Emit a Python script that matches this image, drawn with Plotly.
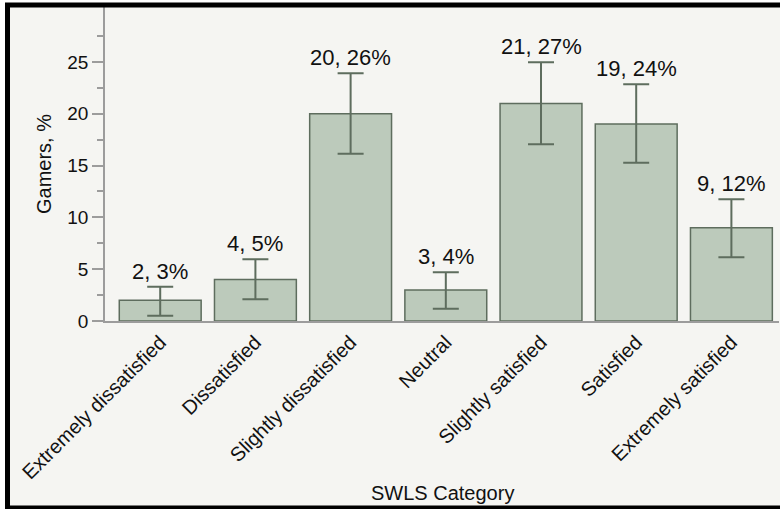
import plotly.graph_objects as go

# SWLS categories, gamer counts / shares, and 95% CI bounds (in %)
categories = ["Extremely dissatisfied", "Dissatisfied", "Slightly dissatisfied",
              "Neutral", "Slightly satisfied", "Satisfied", "Extremely satisfied"]
counts = [2, 4, 20, 3, 21, 19, 9]
shares = [3, 5, 26, 4, 27, 24, 12]
ci_low = [0.51, 2.1, 16.15, 1.19, 17.06, 15.28, 6.15]
ci_high = [3.31, 5.96, 23.9, 4.7, 24.97, 22.85, 11.75]

err_plus = [h - v for h, v in zip(ci_high, counts)]
err_minus = [v - l for v, l in zip(counts, ci_low)]

W, H = 780, 509
ML, MR, MT, MB = 105, 1, 7, 188
PW, PH = W - ML - MR, H - MT - MB

def px_x(p):
    return (p - ML) / PW

def px_y(p):
    return (H - MB - p) / PH

FONT = "Liberation Sans, Arial, sans-serif"
BAR_FILL = "#bccabb"
BAR_LINE = "#5e6d5e"
AXIS = "#9c9c9c"
TEXT = "#111111"

fig = go.Figure()
fig.add_trace(go.Bar(
    x=categories, y=counts,
    marker=dict(color=BAR_FILL, line=dict(color=BAR_LINE, width=1.5)),
    error_y=dict(type="data", symmetric=False, array=err_plus, arrayminus=err_minus,
                 color=BAR_LINE, thickness=2, width=13),
    width=0.86,
    showlegend=False,
    hoverinfo="skip",
))

for c, n, s, hi in zip(categories, counts, shares, ci_high):
    fig.add_annotation(x=c, y=hi, text=f"{n}, {s}%", showarrow=False,
                       yanchor="bottom", yshift=1,
                       font=dict(family=FONT, size=22, color=TEXT))

# x-axis title, placed at a fixed spot below the slanted category labels
fig.add_annotation(xref="paper", yref="paper", x=0.5, y=px_y(493),
                   text="SWLS Category", showarrow=False,
                   xanchor="center", yanchor="middle",
                   font=dict(family=FONT, size=20, color=TEXT))

# page background inside the frame, and the black frame itself
fig.add_shape(type="rect", xref="paper", yref="paper", layer="below",
              x0=px_x(7), x1=px_x(800), y0=px_y(508), y1=px_y(5),
              fillcolor="#f5f5f2", line=dict(width=0))
fig.add_shape(type="rect", xref="paper", yref="paper", layer="above",
              x0=px_x(7.5), x1=px_x(800), y0=px_y(508), y1=px_y(5),
              fillcolor="rgba(0,0,0,0)", line=dict(color="#000000", width=5))

fig.update_layout(
    width=W, height=H,
    margin=dict(l=ML, r=MR, t=MT, b=MB, pad=0, autoexpand=False),
    paper_bgcolor="#ffffff",
    plot_bgcolor="#ffffff",
    font=dict(family=FONT, color=TEXT),
    bargap=0.14,
)
fig.update_xaxes(
    range=[-0.58, 6.5],
    tickangle=-45,
    tickfont=dict(family=FONT, size=20, color=TEXT),
    ticks="",
    automargin=False,
    showline=True, linecolor=AXIS, linewidth=1.5,
    showgrid=False, zeroline=False,
)
fig.update_yaxes(
    range=[0, 30.3],
    tickvals=[0, 5, 10, 15, 20, 25],
    tickfont=dict(family=FONT, size=19, color=TEXT),
    ticks="outside", ticklen=11, tickwidth=1.5, tickcolor=AXIS,
    minor=dict(tickvals=[2.5, 7.5, 12.5, 17.5, 22.5, 27.5], ticks="outside",
               ticklen=6, tickwidth=1.5, tickcolor=AXIS),
    showline=True, linecolor=AXIS, linewidth=1.5,
    showgrid=False, zeroline=False,
    automargin=False,
    title=dict(text="Gamers, %", font=dict(family=FONT, size=20, color=TEXT),
               standoff=10),
)

fig.write_html("out.html")
